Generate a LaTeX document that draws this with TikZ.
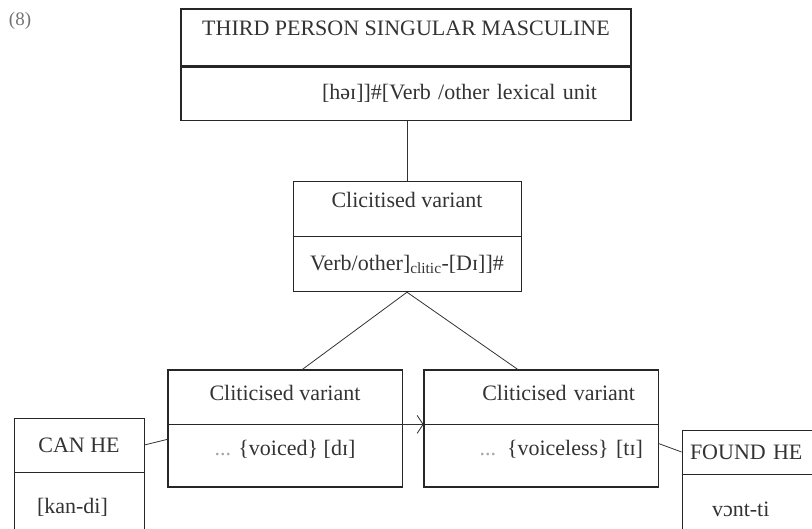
\documentclass[tikz,border=0pt]{standalone}
\usepackage{fontspec}
\setmainfont{Liberation Serif}
\usetikzlibrary{arrows.meta,positioning}

\begin{document}
\begin{tikzpicture}[
    x=1pt, y=-1pt,
    cell/.style={rectangle, draw=black!85, inner sep=0pt, font=\fontsize{22}{26}\selectfont, text=black!80},
    thinbox/.style={cell, line width=0.8pt},
    frame/.style={draw=black!85, line width=1.8pt},
    raised/.style={text depth=#1},
    link/.style={draw=black!80, line width=0.8pt},
    arrow/.style={link, -{Straight Barb[length=6pt, width=18pt]}}
]
    \clip (0,0) rectangle (812,529);
    \node[text=black!55, font=\fontsize{19}{22}\selectfont] (num) at (20,21) {(8)};

    % Lexical entry (top)
    \node[cell, line width=1.1pt, minimum width=450, minimum height=57, raised=19pt] (third-a) at (406,37.5) {THIRD PERSON SINGULAR MASCULINE};
    \node[cell, line width=1.1pt, minimum width=450, minimum height=53, text width=382, align=right, below=0pt of third-a] (third-b) {[həɪ]]\#[Verb /other lexical unit};

    % Clitic form (middle)
    \node[thinbox, minimum width=228, minimum height=55, raised=17pt] (clit-a) at (407,208.5) {Clicitised variant};
    \node[thinbox, minimum width=228, minimum height=55, below=0pt of clit-a] (clit-b) {Verb/other]\textsubscript{clitic}-[Dɪ]]\#};

    % Voiced and voiceless variants
    \node[thinbox, minimum width=234, minimum height=54, raised=8pt] (voiced-a) at (285,397) {Cliticised variant};
    \node[thinbox, minimum width=234, minimum height=62, raised=16pt, below=0pt of voiced-a] (voiced-b) {{\color{black!35}...} \{voiced\} [dɪ]};
    \node[thinbox, minimum width=234, minimum height=54, raised=8pt, text width=188, align=right] (voiceless-a) at (541,397) {Cliticised variant};
    \node[thinbox, minimum width=234, minimum height=62, raised=16pt, text width=204, align=right, below=0pt of voiceless-a] (voiceless-b) {{\color{black!35}...} \{voiceless\} [tɪ]};
    \draw[frame] (voiced-a.north west) rectangle (voiced-b.south east);
    \draw[frame] (voiceless-a.north west) rectangle (voiceless-b.south east);

    % Examples
    \node[thinbox, minimum width=130, minimum height=54] (canhe-a) at (79,445) {CAN HE};
    \node[thinbox, minimum width=130, minimum height=70, text width=84, align=left, below=0pt of canhe-a] (canhe-b) {[kan-di]};
    \node[thinbox, minimum width=150, minimum height=44, text width=134, align=left] (foundhe-a) at (757,452) {FOUND HE};
    \node[thinbox, minimum width=150, minimum height=70, text width=90, align=left, below=0pt of foundhe-a] (foundhe-b) {vɔnt-ti};

    % Connectors
    \draw[link] (clit-a.north) -- (clit-a.north |- third-b.south);
    \draw[link] (clit-b.south) -- (voiced-a.58);
    \draw[link] (clit-b.south) -- (voiceless-a.130);
    \draw[arrow] (voiced-a.south east) -- (voiceless-a.south west);
    \draw[link] (canhe-a.east) -- (voiced-b.172);
    \draw[link] (voiceless-b.6) -- (foundhe-a.west);
\end{tikzpicture}
\end{document}
